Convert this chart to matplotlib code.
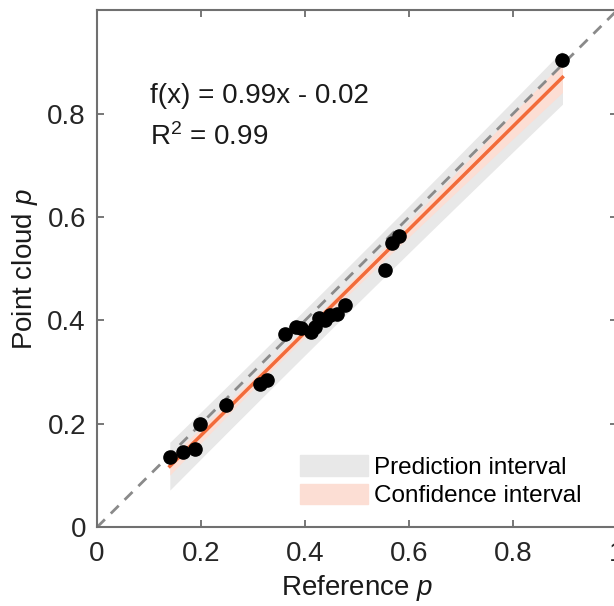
import numpy as np
import matplotlib.pyplot as plt
from matplotlib.patches import Patch

plt.rcParams['font.family'] = ['Liberation Sans', 'DejaVu Sans']
plt.rcParams['mathtext.fontset'] = 'custom'
plt.rcParams['mathtext.rm'] = 'Liberation Sans'
plt.rcParams['mathtext.it'] = 'Liberation Sans:italic'

# reference vs point cloud values
ref_p = [0.140, 0.165, 0.188, 0.198, 0.248, 0.313, 0.326, 0.362, 0.382, 0.392,
         0.412, 0.419, 0.426, 0.438, 0.448, 0.461, 0.477, 0.554, 0.567, 0.581, 0.895]
pc_p = [0.136, 0.146, 0.151, 0.200, 0.236, 0.278, 0.284, 0.373, 0.387, 0.385,
        0.378, 0.387, 0.404, 0.400, 0.410, 0.413, 0.429, 0.498, 0.549, 0.563, 0.903]

x = np.array(ref_p)
y = np.array(pc_p)
n = len(x)

slope, intercept = np.polyfit(x, y, 1)
resid = y - (slope * x + intercept)
s = np.sqrt(np.sum(resid ** 2) / (n - 2))
t = 2.09
xx = np.linspace(x.min(), x.max(), 200)
yy = slope * xx + intercept
sxx = np.sum((x - x.mean()) ** 2)
ci = t * s * np.sqrt(1 / n + (xx - x.mean()) ** 2 / sxx)
pi = t * s * np.sqrt(1 + 1 / n + (xx - x.mean()) ** 2 / sxx)

fig = plt.figure(figsize=(6.14, 6.06), dpi=100)
ax = fig.add_axes([0.158, 0.130, 0.847, 0.853])

gray = '#e8e8e8'
pink = '#fcded4'
orange = '#f26b3a'

ax.fill_between(xx, yy - pi, yy + pi, color=gray, lw=0)
ax.fill_between(xx, yy - ci, yy + ci, color=pink, lw=0)
ax.plot([0, 1], [0, 1], '--', color='#8a8a8a', lw=2, dashes=(4, 3))
ax.plot(xx, yy, color=orange, lw=2.5)
ax.plot(x, y, 'o', color='black', markersize=9.5)

ax.text(0.102, 0.820, 'f(x) = 0.99x - 0.02', fontsize=20, va='baseline', color='#1a1a1a')
ax.text(0.102, 0.739, r'R$^2$ = 0.99', fontsize=20, va='baseline', color='#1a1a1a')

ax.set_xlim(0, 1)
ax.set_ylim(0, 1)
ticks = [0, 0.2, 0.4, 0.6, 0.8, 1]
ax.set_xticks(ticks)
ax.set_xticklabels(['0', '0.2', '0.4', '0.6', '0.8', '1'])
ax.set_yticks(ticks[:-1])
ax.set_yticklabels(['0', '0.2', '0.4', '0.6', '0.8'])
ax.tick_params(direction='in', length=5, width=1.2, color='#606060',
               labelsize=20, labelcolor='#262626',
               top=True, right=True)
ax.tick_params(axis='x', pad=10)
ax.tick_params(axis='y', pad=8)
for sp in ax.spines.values():
    sp.set_color('#707070')
    sp.set_linewidth(1.5)

ax.set_xlabel('Reference $\\it{p}$', fontsize=20, color='#1a1a1a', labelpad=4)
ax.set_ylabel('Point cloud $\\it{p}$', fontsize=20, color='#1a1a1a', labelpad=5)

handles = [Patch(color=gray, label='Prediction interval'),
           Patch(color=pink, label='Confidence interval')]
ax.legend(handles=handles, loc='lower right', bbox_to_anchor=(0.95, 0.02),
          frameon=False, fontsize=17.5, handlelength=2.8, handleheight=0.9,
          handletextpad=0.25, labelspacing=0.2, borderaxespad=0)

fig.savefig('out.png', dpi=100)
